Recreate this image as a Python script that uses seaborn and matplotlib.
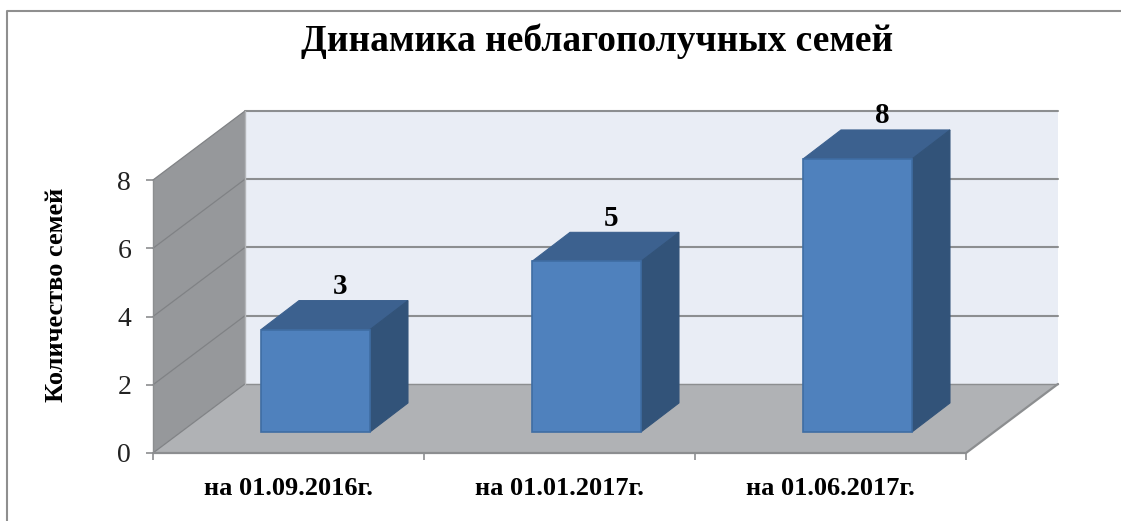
import matplotlib
matplotlib.use('Agg')
import matplotlib.pyplot as plt
from matplotlib.patches import Polygon
import pandas as pd
import seaborn as sns

# ── Data ──────────────────────────────────────────────────────────────
dates = ['на 01.09.2016г.', 'на 01.01.2017г.', 'на 01.06.2017г.']
families = [3, 5, 8]
y_ticks = [0, 2, 4, 6, 8]

sns.set_theme(style='white')
plt.rcParams['font.family'] = ['Liberation Serif', 'DejaVu Serif']

W, H = 1121, 521
fig = plt.figure(figsize=(W / 100, H / 100), dpi=100)
ax = fig.add_axes([153 / W, 1 - 453 / H, 813 / W, 273 / H])

df = pd.DataFrame({'date': dates, 'families': families})
sns.barplot(data=df, x='date', y='families', color='#4f81bd', saturation=1,
            width=0.402, ax=ax, zorder=5)
bars = list(ax.patches)
ax.set_xlim(-0.5, 2.5)
ax.set_ylim(0, 8)

# 3d projection, in data units (271 px per category, 34.1 px per y unit)
wall_dx, wall_dy = 92 / 271, 69 / 34.1
bar_shift_x, bar_shift_y = 27 / 271, 21 / 34.1
bar_dx, bar_dy = 38 / 271, 29 / 34.1
grey = '#8c8e90'

# ── Walls and floor ───────────────────────────────────────────────────
ax.add_patch(Polygon([(-0.5, 0), (-0.5, 8), (-0.5 + wall_dx, 8 + wall_dy), (-0.5 + wall_dx, wall_dy)],
                     fc='#96989b', ec='none', clip_on=False, zorder=1))
ax.add_patch(Polygon([(-0.5 + wall_dx, wall_dy), (-0.5 + wall_dx, 8 + wall_dy),
                      (2.5 + wall_dx, 8 + wall_dy), (2.5 + wall_dx, wall_dy)],
                     fc='#e9edf5', ec='none', clip_on=False, zorder=1))
ax.add_patch(Polygon([(-0.5, 0), (-0.5 + wall_dx, wall_dy), (2.5 + wall_dx, wall_dy), (2.5, 0)],
                     fc='#b0b2b5', ec='none', clip_on=False, zorder=1))

# ── Gridlines on wall and back ────────────────────────────────────────
for t in y_ticks:
    ax.plot([-0.5, -0.5 + wall_dx], [t, t + wall_dy], color='#808285', lw=0.9, clip_on=False, zorder=2)
    ax.plot([-0.5 + wall_dx, 2.5 + wall_dx], [t + wall_dy, t + wall_dy],
            color=grey, lw=1.0 if t == 0 else 1.5, clip_on=False, zorder=2)
ax.plot([-0.5, -0.5], [0, 8], color=grey, lw=1.0, clip_on=False, zorder=2)
ax.plot([-0.5 + wall_dx] * 2, [wall_dy, 8 + wall_dy], color='#b4b6b9', lw=1.0, clip_on=False, zorder=2)
ax.plot([-0.5, 2.5, 2.5 + wall_dx], [0, 0, wall_dy], color=grey, lw=1.6, clip_on=False, zorder=2)

# ── Bars: move the front faces and add top and side ───────────────────
for bar, val in zip(bars, families):
    x0 = bar.get_x() + bar_shift_x
    x1 = x0 + bar.get_width()
    y0 = bar_shift_y
    y1 = y0 + val
    bar.set_x(x0)
    bar.set_y(y0)
    bar.set_edgecolor('#3f6da3')
    bar.set_linewidth(1.2)
    bar.set_clip_on(False)
    ax.add_patch(Polygon([(x0, y1), (x0 + bar_dx, y1 + bar_dy), (x1 + bar_dx, y1 + bar_dy), (x1, y1)],
                         fc='#3c618f', ec='#3c618f', lw=0.8, clip_on=False, zorder=4))
    ax.add_patch(Polygon([(x1, y0), (x1 + bar_dx, y0 + bar_dy), (x1 + bar_dx, y1 + bar_dy), (x1, y1)],
                         fc='#325379', ec='#325379', lw=0.8, clip_on=False, zorder=4))
    ax.text((x0 + x1) / 2 + 25 / 271, y1 + bar_dy + 0.42, str(val), ha='center', va='center',
            fontsize=21, fontweight='bold', color='black', zorder=6, clip_on=False)

# ── Axes ──────────────────────────────────────────────────────────────
sns.despine(ax=ax, left=True, bottom=True)
ax.set_xticks([-0.5, 0.5, 1.5, 2.5], minor=True)
ax.set_xticks([0, 1, 2])
ax.set_xticklabels(dates, fontsize=19, fontweight='bold', color='black')
ax.tick_params(axis='x', which='major', length=0, pad=17)
ax.tick_params(axis='x', which='minor', bottom=True, length=5, width=1.2, color=grey)
ax.set_yticks(y_ticks)
ax.set_yticklabels(y_ticks, fontsize=20, color='#222222')
ax.tick_params(axis='y', left=True, length=4.7, width=1.2, color=grey, pad=11)
ax.set_xlabel('')
ax.set_ylabel('Количество семей', fontsize=19, fontweight='bold', color='black', labelpad=0)
ax.yaxis.set_label_coords((68 - 153) / 813, 0.58)

fig.text(597 / W, 1 - 41 / H, 'Динамика неблагополучных семей', ha='center', va='center',
         fontsize=27, fontweight='bold', color='black')

# chart frame, only left and top are visible in the picture
fig.add_artist(plt.Line2D([7 / W, 7 / W, 1], [0, 1 - 11 / H, 1 - 11 / H], color='#8f8f8f', lw=1.5))

fig.savefig('out.png', dpi=100)
